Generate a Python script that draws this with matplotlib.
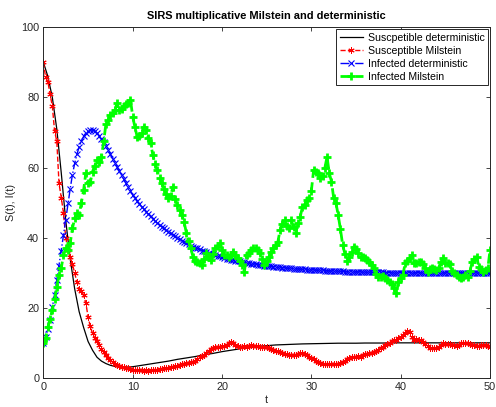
import numpy as np
import matplotlib
matplotlib.use('Agg')
from matplotlib import pyplot as plt

plt.rcParams['font.family'] = ['Liberation Sans', 'DejaVu Sans']

#--data--------------------------------------------------------------------
# deterministic S on a coarse grid (line only)
t_det_s = [0, 0.5, 1, 1.5, 2, 2.5, 3, 3.5, 4, 4.5, 5, 5.5, 6, 6.5, 7, 7.5, 8, 8.5, 9, 9.5,
           10, 11, 12, 13, 14, 15, 16, 17, 18, 19, 20, 21, 22, 23, 24, 25, 26, 27, 28, 29,
           30, 31, 32, 33, 34, 35, 36, 37, 38, 39, 40, 41, 42, 43, 44, 45, 46, 47, 48, 49, 50]
s_det = [90.0, 86.0, 80.0, 71.0, 58.5, 45.0, 34.0, 25.5, 19.0, 14.5, 10.5, 8.0, 6.0, 4.9, 4.2, 3.7, 3.4, 3.25, 3.2, 3.2,
         3.3, 3.7, 4.1, 4.5, 4.9, 5.4, 5.8, 6.2, 6.7, 7.1, 7.6, 8.0, 8.4, 8.8, 9.1, 9.3, 9.5, 9.6, 9.7, 9.8,
         9.85, 9.9, 9.95, 10.0, 10.0, 10.0, 10.05, 10.05, 10.05, 10.1, 10.1, 10.1, 10.1, 10.1, 10.1, 10.1, 10.1, 10.1, 10.1, 10.1, 10.1]

# time grid of the Milstein run, dt = 0.25
t_grid = np.linspace(0, 50, 201)

i_det = [10.0, 11.7, 14.0, 16.7, 20.2, 23.8, 28.0, 32.0, 36.2, 40.8,
         45.2, 49.8, 54.0, 58.0, 61.2, 63.8, 65.9, 67.6, 68.9, 69.9,
         70.5, 70.7, 70.7, 70.4, 69.8, 69.1, 68.2, 67.2, 66.1, 65.0,
         63.8, 62.6, 61.4, 60.2, 59.0, 57.8, 56.7, 55.5, 54.4, 53.3,
         52.2, 51.3, 50.5, 49.7, 48.9, 48.2, 47.5, 46.8, 46.1, 45.5,
         44.9, 44.3, 43.7, 43.2, 42.7, 42.2, 41.7, 41.3, 40.8, 40.4,
         40.0, 39.6, 39.2, 38.9, 38.5, 38.2, 37.8, 37.5, 37.2, 37.0,
         36.7, 36.4, 36.2, 35.9, 35.7, 35.5, 35.3, 35.1, 34.9, 34.7,
         34.5, 34.3, 34.1, 33.9, 33.8, 33.6, 33.5, 33.4, 33.3, 33.1,
         33.0, 32.9, 32.8, 32.7, 32.6, 32.5, 32.4, 32.3, 32.2, 32.1,
         32.0, 31.9, 31.9, 31.8, 31.7, 31.6, 31.6, 31.5, 31.5, 31.4,
         31.35, 31.3, 31.25, 31.2, 31.15, 31.1, 31.06, 31.02, 30.98, 30.94,
         30.9, 30.85, 30.8, 30.78, 30.75, 30.72, 30.7, 30.65, 30.6, 30.58,
         30.55, 30.52, 30.5, 30.48, 30.45, 30.42, 30.4, 30.38, 30.35, 30.32,
         30.3, 30.29, 30.28, 30.26, 30.25, 30.24, 30.22, 30.21, 30.2, 30.19,
         30.18, 30.16, 30.15, 30.14, 30.12, 30.11, 30.1, 30.1, 30.1, 30.09,
         30.08, 30.08, 30.07, 30.07, 30.06, 30.06, 30.05, 30.05, 30.05, 30.04,
         30.04, 30.04, 30.03, 30.03, 30.03, 30.03, 30.02, 30.02, 30.02, 30.02,
         30.02, 30.01, 30.01, 30.01, 30.01, 30.01, 30.01, 30.01, 30.0, 30.0,
         30.0, 30.0, 30.0, 30.0, 30.0, 30.0, 30.0, 30.0, 30.0, 30.0,
         30.0]

s_mil = [90.0, 85.7, 84.5, 80.9, 77.5, 70.5, 67.5, 55.5, 51.5, 47.0,
         40.0, 36.5, 34.5, 32.5, 30.0, 27.5, 25.5, 24.8, 23.6, 21.5,
         17.5, 14.8, 12.8, 11.5, 10.6, 9.6, 8.4, 7.5, 6.5, 5.8,
         5.1, 4.6, 4.2, 3.9, 3.6, 3.3, 3.1, 3.0, 2.8, 2.7,
         2.5, 2.4, 2.3, 2.4, 2.3, 2.2, 2.3, 2.2, 2.3, 2.4,
         2.5, 2.5, 2.6, 2.7, 2.8, 2.9, 3.0, 3.2, 3.3, 3.5,
         3.6, 3.8, 4.0, 4.2, 4.4, 4.5, 4.6, 4.7, 5.0, 5.5,
         6.0, 6.4, 6.7, 7.2, 7.8, 8.4, 8.6, 8.8, 8.9, 9.0,
         9.3, 9.2, 9.6, 10.2, 10.4, 10.0, 9.6, 9.3, 9.0, 8.9,
         9.1, 9.0, 9.2, 9.5, 9.2, 9.3, 9.1, 9.0, 8.9, 8.8,
         8.8, 8.6, 8.4, 8.1, 7.9, 7.8, 7.6, 7.3, 7.0, 6.8,
         6.6, 6.7, 6.6, 6.7, 6.8, 7.2, 7.3, 7.0, 6.6, 6.1,
         5.8, 5.4, 4.9, 4.6, 4.4, 4.2, 4.1, 4.0, 4.0, 4.1,
         4.0, 4.1, 4.1, 4.3, 4.6, 5.0, 5.5, 5.9, 6.1, 6.1,
         6.2, 6.3, 6.2, 6.5, 6.8, 7.0, 7.1, 7.3, 7.6, 7.9,
         8.2, 8.6, 9.0, 9.5, 9.8, 10.2, 10.5, 10.8, 11.0, 11.4,
         11.8, 12.2, 12.8, 13.6, 13.2, 11.8, 10.9, 11.2, 11.0, 10.8,
         10.4, 9.8, 9.1, 8.7, 8.6, 8.5, 8.6, 9.0, 9.6, 10.0,
         9.8, 9.9, 9.7, 9.5, 9.5, 9.2, 9.6, 10.0, 10.2, 10.0,
         10.0, 9.8, 9.6, 9.4, 9.1, 9.2, 9.5, 9.6, 9.4, 9.2,
         9.0]

i_mil = [10.0, 11.5, 14.5, 17.0, 19.5, 22.5, 26.0, 29.5, 31.5, 35.0,
         37.0, 36.6, 38.5, 42.7, 45.6, 47.0, 46.5, 50.0, 53.6, 58.5,
         55.5, 55.8, 58.9, 60.5, 62.2, 61.7, 63.0, 67.5, 72.5, 73.5,
         75.0, 75.5, 76.5, 78.3, 76.4, 76.8, 77.5, 78.0, 78.5, 79.3,
         74.5, 71.5, 68.8, 69.0, 69.8, 71.7, 70.8, 68.5, 67.0, 63.6,
         61.0, 59.3, 57.0, 55.5, 54.0, 52.5, 51.3, 52.0, 54.6, 51.0,
         49.4, 48.0, 46.5, 44.5, 41.5, 39.0, 37.0, 34.6, 33.5, 33.0,
         32.8, 32.3, 34.0, 35.6, 34.5, 33.7, 35.5, 37.0, 37.8, 38.5,
         36.5, 35.1, 35.0, 34.6, 35.2, 36.1, 35.0, 34.2, 33.5, 32.3,
         30.4, 35.1, 35.8, 36.6, 37.2, 37.0, 36.5, 35.6, 34.0, 32.3,
         33.5, 34.6, 36.0, 37.0, 38.0, 38.9, 42.3, 44.0, 45.1, 43.5,
         42.7, 45.1, 43.0, 41.3, 44.2, 46.0, 48.9, 49.5, 50.8, 51.5,
         53.5, 59.3, 58.8, 58.4, 57.0, 57.5, 59.8, 63.1, 58.5, 56.0,
         51.3, 49.9, 46.5, 42.5, 38.0, 35.5, 33.3, 34.5, 36.0, 37.5,
         36.8, 35.8, 34.6, 34.5, 34.2, 33.6, 33.0, 32.2, 31.3, 29.8,
         28.9, 28.9, 29.2, 28.5, 28.0, 27.5, 26.8, 25.6, 24.2, 27.5,
         28.5, 29.5, 32.8, 33.5, 34.2, 35.1, 32.8, 32.8, 33.0, 33.2,
         32.5, 31.5, 30.4, 31.0, 31.3, 31.0, 30.9, 31.3, 33.0, 34.2,
         32.8, 32.8, 32.5, 30.6, 30.0, 29.4, 29.0, 28.5, 29.0, 29.4,
         28.9, 30.5, 33.2, 34.0, 34.6, 31.8, 31.0, 30.4, 30.8, 31.3,
         36.6]

labels = ['Suscpetible deterministic', 'Susceptible Milstein',
          'Infected deterministic', 'Infected Milstein']

#--plot--------------------------------------------------------------------
axcol = '#262626'
fig = plt.figure(figsize=(4.96, 4.07), dpi=100)
ax = fig.add_axes([0.0875, 0.0705, 0.9005, 0.8625])

ax.plot(t_det_s, s_det, 'k-', lw=0.9, label=labels[0])
# matlab style asterisk marker
ax.plot(t_grid, s_mil, '--', color='r', lw=1.0, marker=(6, 2, 0), ms=4.5, mew=0.7, label=labels[1])
ax.plot(t_grid, i_det, '-.', color='b', lw=1.0, marker='x', ms=5, mew=0.8, label=labels[2])
ax.plot(t_grid, i_mil, '--', color=(0, 1, 0), lw=2.0, marker='+', ms=6, mew=2.0, label=labels[3])

ax.set_xlim(0, 50)
ax.set_ylim(0, 100)
ax.set_xticks(np.arange(0, 51, 10))
ax.set_yticks(np.arange(0, 101, 20))
ax.tick_params(direction='in', length=3, width=0.6, top=True, right=True,
               labelsize=7.8, colors=axcol, pad=3)
for sp in ax.spines.values():
    sp.set_color(axcol)
    sp.set_linewidth(0.7)

ax.set_xlabel('t', fontsize=7.8, color=axcol, labelpad=2)
ax.set_ylabel('S(t), I(t)', fontsize=7.8, color=axcol, labelpad=4)
ax.set_title('SIRS multiplicative Milstein and deterministic', fontsize=7.9,
             fontweight='bold', pad=6)

leg = ax.legend(loc='upper right', fontsize=7.6, fancybox=False, framealpha=1,
                edgecolor=axcol, borderaxespad=0.2, handlelength=2.2,
                handletextpad=0.5, labelspacing=0.3, borderpad=0.3)
leg.get_frame().set_linewidth(0.7)

fig.savefig('out.png', dpi=100)
plt.close()
